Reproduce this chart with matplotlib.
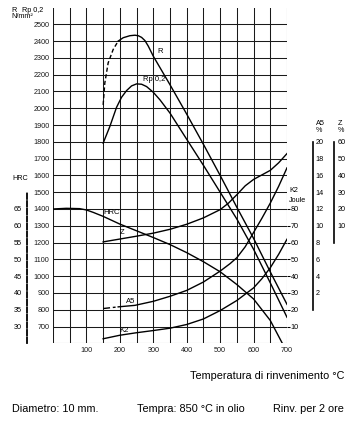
import matplotlib
matplotlib.use('Agg')
import matplotlib.pyplot as plt

plt.rcParams['font.family'] = ['Liberation Sans', 'DejaVu Sans']

# Tensile strength R (N/mm2) - dashed start then solid
temp_r_dash = [150, 155, 165, 180, 195]
r_dash = [2020, 2150, 2270, 2350, 2400]
temp_r = [195, 210, 230, 245, 255, 265, 275, 285, 300, 325, 350, 400, 450, 500, 550, 600, 650, 700]
r_vals = [2400, 2420, 2432, 2435, 2432, 2422, 2403, 2370, 2310, 2225, 2140, 1965, 1785, 1600, 1410, 1225, 1025, 832]

# Yield strength Rp 0,2 (N/mm2)
temp_rp = [150, 170, 190, 205, 220, 235, 250, 265, 280, 300, 320, 350, 400, 450, 500, 550, 600, 650, 700]
rp_vals = [1792, 1891, 2005, 2065, 2105, 2133, 2145, 2143, 2129, 2095, 2050, 1971, 1815, 1660, 1500, 1340, 1160, 960, 755]

# Hardness HRC
temp_hrc = [0, 40, 80, 100, 120, 150, 200, 250, 300, 350, 400, 450, 500, 550, 600, 650, 686]
hrc_vals = [65, 65.2, 65.1, 64.7, 64, 62.8, 60.5, 58.5, 56.5, 54.4, 52, 49.3, 46.3, 42.5, 38.2, 31.8, 25]

# Reduction of area Z (%)
temp_z = [150, 200, 250, 300, 350, 400, 450, 500, 525, 550, 575, 600, 625, 650, 675, 700]
z_vals = [0.4, 2.1, 3.8, 5.6, 7.9, 10.9, 14.7, 19.6, 23.5, 28.5, 33.8, 37.6, 40.3, 43, 47.5, 53]

# Elongation A5 (%)
temp_a5_dash = [150, 195]
a5_dash = [0.14, 0.34]
temp_a5 = [195, 245, 300, 350, 400, 450, 500, 530, 550, 575, 600, 625, 650, 675, 700]
a5_vals = [0.34, 0.52, 1.0, 1.6, 2.3, 3.3, 4.6, 5.5, 6.2, 7.5, 9.2, 10.9, 12.7, 14.7, 16.9]

# Impact energy K2 (Joule)
temp_k2 = [150, 200, 250, 300, 350, 400, 450, 500, 550, 600, 625, 650, 675, 700]
k2_vals = [2.7, 4.8, 6.3, 7.6, 9.0, 11.2, 14.5, 19.5, 25.5, 33, 38.5, 45, 53, 62]

W, H = 356, 424
def fx(px):
    return px / W
def fy(py):
    return 1 - py / H

fig = plt.figure(figsize=(W / 100, H / 100), dpi=100)
ax = fig.add_axes([fx(53), fy(343.3), (287 - 53) / W, (343.3 - 7.5) / H])
ax.set_xlim(0, 700)
ax.set_ylim(600, 2600)
for s in ax.spines.values():
    s.set_visible(False)
ax.set_xticks(range(100, 701, 100))
ax.set_xticks(range(0, 701, 50), minor=True)
ax.set_yticks(range(700, 2501, 100))
ax.set_yticks([600], minor=True)
ax.grid(which='both', color='#1a1a1a', lw=0.75)
ax.tick_params(which='both', length=0, labelsize=5.2, pad=2.6, colors='#1a1a1a')

lw = 1.0
ax.plot(temp_r_dash, r_dash, color='k', lw=lw, ls=(0, (3, 1.8)))
ax.plot(temp_r, r_vals, color='k', lw=lw)
ax.plot(temp_rp, rp_vals, color='k', lw=lw)

# HRC axis (left, dashed)
ax_h = ax.twinx()
ax_h.set_ylim(25, 125)
for k, s in ax_h.spines.items():
    s.set_visible(k == 'left')
ax_h.yaxis.set_ticks_position('left')
ax_h.spines['left'].set_position(('axes', -0.111))
ax_h.spines['left'].set_bounds(25, 70)
ax_h.spines['left'].set_linestyle((0, (3, 1.2)))
ax_h.spines['left'].set_linewidth(1.3)
ax_h.set_yticks(range(30, 66, 5))
ax_h.tick_params(length=0, labelsize=5.2, pad=3.5)
ax_h.plot(temp_hrc, hrc_vals, color='k', lw=lw)

# K2 axis (right edge of grid)
ax_k = ax.twinx()
ax_k.set_ylim(0, 200)
for s in ax_k.spines.values():
    s.set_visible(False)
ax_k.set_yticks(range(10, 81, 10))
ax_k.tick_params(length=2, width=0.75, labelsize=5.2, pad=0.8)
ax_k.plot(temp_k2, k2_vals, color='k', lw=lw)

# A5 axis
ax_a = ax.twinx()
ax_a.set_ylim(-4, 36)
for k, s in ax_a.spines.items():
    s.set_visible(k == 'right')
ax_a.spines['right'].set_position(('axes', 1.110))
ax_a.spines['right'].set_bounds(0, 20)
ax_a.spines['right'].set_linewidth(1.2)
ax_a.set_yticks(range(2, 21, 2))
ax_a.tick_params(length=0, labelsize=5.2, pad=2)
ax_a.plot(temp_a5_dash, a5_dash, color='k', lw=lw, ls=(0, (5, 2, 2, 2)))
ax_a.plot(temp_a5, a5_vals, color='k', lw=lw)

# Z axis
ax_z = ax.twinx()
ax_z.set_ylim(-60, 140)
for k, s in ax_z.spines.items():
    s.set_visible(k == 'right')
ax_z.spines['right'].set_position(('axes', 1.201))
ax_z.spines['right'].set_bounds(0, 60)
ax_z.spines['right'].set_linewidth(1.2)
ax_z.set_yticks(range(10, 61, 10))
ax_z.tick_params(length=0, labelsize=5.2, pad=2.5)
ax_z.plot(temp_z, z_vals, color='k', lw=lw)

# curve labels
fs = 5.5
ax.text(311, 2335, 'R', fontsize=fs, va='center')
ax.text(268, 2150, 'Rp 0,2', fontsize=fs, va='bottom')
ax.text(150, 1380, 'HRC', fontsize=fs, va='center')
ax.text(206, 1260, 'Z', fontsize=fs, va='center', ha='center')
ax.text(218, 850, 'A5', fontsize=fs, va='center')
ax.text(200, 677, 'K2', fontsize=fs, va='center')

# axis titles
fig.text(fx(11), fy(10.3), 'R', fontsize=5.2, va='center')
fig.text(fx(22.5), fy(10.3), 'Rp 0,2', fontsize=5.2, va='center')
fig.text(fx(11), fy(16.8), 'N/mm²', fontsize=5.2, va='center')
fig.text(fx(12), fy(179), 'HRC', fontsize=5.2, va='center')
fig.text(fx(289), fy(191), 'K2', fontsize=5.2, va='center')
fig.text(fx(289), fy(201), 'Joule', fontsize=5.2, va='center')
fig.text(fx(316), fy(123.5), 'A5', fontsize=5.2, va='center')
fig.text(fx(316), fy(130), '%', fontsize=5.2, va='center')
fig.text(fx(337.5), fy(123.5), 'Z', fontsize=5.2, va='center')
fig.text(fx(337.5), fy(130), '%', fontsize=5.2, va='center')

fig.text(fx(344), fy(376), 'Temperatura di rinvenimento °C', fontsize=7.8, ha='right', va='center')
fig.text(fx(12), fy(409), 'Diametro: 10 mm.', fontsize=7.8, va='center')
fig.text(fx(137), fy(409), 'Tempra: 850 °C in olio', fontsize=7.8, va='center')
fig.text(fx(344), fy(409), 'Rinv. per 2 ore', fontsize=7.8, ha='right', va='center')

fig.savefig('out.png', dpi=100, facecolor='white')
